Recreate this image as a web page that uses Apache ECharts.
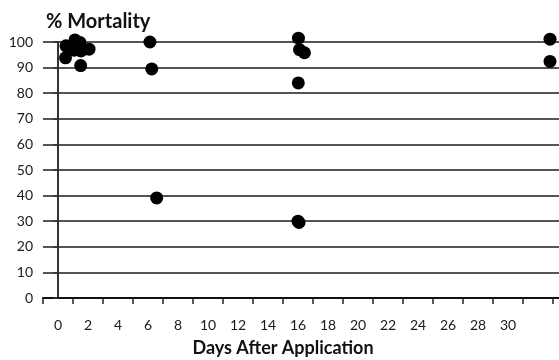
<!DOCTYPE html>
<html><head><meta charset="utf-8">
<script src="https://cdn.jsdelivr.net/npm/echarts@6/dist/echarts.min.js"></script>
<style>html,body{margin:0;padding:0;background:#fff}#c{width:559px;height:360px}</style>
</head><body><div id="c"></div>
<script>
// Data
const days = [0.53, 1.13, 1.47, 1.07, 1.53, 2.07, 0.5, 1.51, 6.13, 6.25, 6.58, 16.03, 16.1, 16.43, 16.02, 16.07, 16.0, 32.8, 32.8];
const mortality = [98.5, 100.8, 99.8, 96.8, 96.5, 97.2, 93.8, 90.8, 100.0, 89.5, 39.1, 101.5, 97.0, 95.8, 84.0, 29.5, 30.0, 101.1, 92.4];
const xTickLabels = [0, 2, 4, 6, 8, 10, 12, 14, 16, 18, 20, 22, 24, 26, 28, 30];
const xTickMarks = [-1, 1, 3, 5, 7, 9, 11, 13, 15, 17, 19, 21, 23, 25, 27, 29, 31, 33];
const yTicks = [0, 10, 20, 30, 40, 50, 60, 70, 80, 90, 100];

const font = 'Lato, "Open Sans", sans-serif';
const chart = echarts.init(document.getElementById('c'), null, {renderer: 'canvas'});
chart.setOption({
  animation: false,
  backgroundColor: '#fff',
  title: {
    text: '% Mortality', left: 41, top: 7,
    textStyle: {fontFamily: font, fontWeight: 'bold', fontSize: 20, color: '#111'}
  },
  grid: {left: 43, right: 0, top: 42, bottom: 62, containLabel: false, outerBoundsMode: 'none'},
  xAxis: {
    type: 'value', min: -1, max: 33.4,
    name: 'Days After Application', nameLocation: 'middle', nameGap: 41,
    nameTextStyle: {fontFamily: font, fontWeight: 'bold', fontSize: 18, color: '#111', padding: [0, 36, 0, 0]},
    axisLine: {show: true, onZero: false, lineStyle: {color: '#111', width: 2}},
    axisTick: {show: true, customValues: xTickMarks, length: 6, lineStyle: {color: '#222', width: 1.5}},
    axisLabel: {customValues: xTickLabels, margin: 20, fontFamily: font, fontSize: 14, color: '#1a1a1a'},
    splitLine: {show: false}
  },
  yAxis: {
    type: 'value', min: 0, max: 100, interval: 10,
    axisLine: {show: true, lineStyle: {color: '#333', width: 2}},
    axisTick: {show: true, length: 5, inside: false, lineStyle: {color: '#333', width: 1.5}},
    axisLabel: {margin: 10, fontFamily: font, fontSize: 14, color: '#1a1a1a',
      customValues: yTicks},
    splitLine: {show: true, lineStyle: {color: '#555', width: 2}}
  },
  series: [{
    type: 'scatter',
    data: days.map((d, i) => [d, mortality[i]]),
    symbol: 'circle', symbolSize: 13,
    itemStyle: {color: '#000', opacity: 1},
    clip: false
  }]
});
</script></body></html>
